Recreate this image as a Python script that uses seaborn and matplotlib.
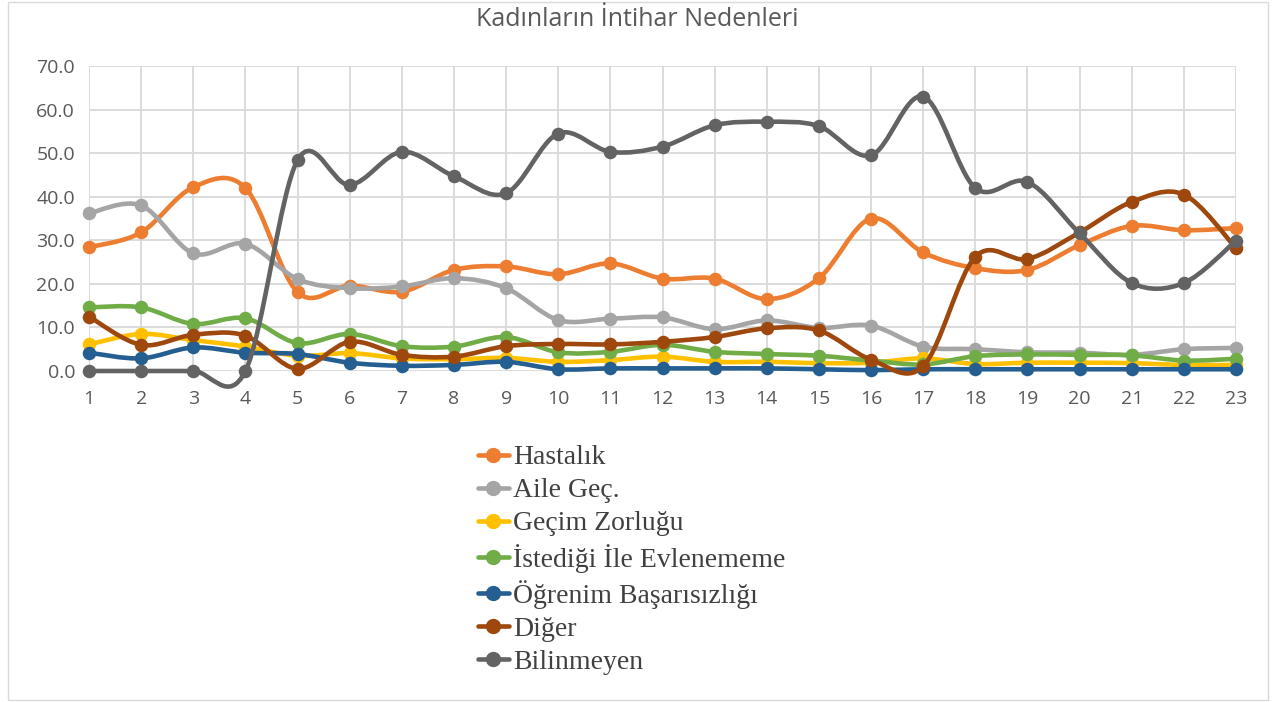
import numpy as np
import pandas as pd
import matplotlib
matplotlib.use("Agg")
import matplotlib.pyplot as plt
from matplotlib.path import Path
from matplotlib.patches import PathPatch, Rectangle
from matplotlib.lines import Line2D
import seaborn as sns

# Yearly share (%) of each cause
years = list(range(1, 24))
hastalik = [28.4, 31.8, 42.2, 42.0, 18.1, 19.6, 18.2, 23.2, 24.0, 22.2, 24.7, 21.2,
            21.2, 16.5, 21.3, 35.0, 27.2, 23.6, 23.2, 28.9, 33.3, 32.3, 32.8]
aile_gec = [36.2, 38.0, 27.0, 29.2, 21.1, 19.0, 19.4, 21.3, 19.0, 11.7, 12.0, 12.3,
            9.6, 11.6, 9.9, 10.4, 5.6, 5.0, 4.3, 4.2, 3.7, 5.0, 5.3]
gecim = [6.1, 8.5, 7.1, 5.6, 3.5, 4.1, 2.9, 2.7, 3.0, 2.1, 2.5, 3.3,
         2.1, 2.1, 1.8, 1.9, 2.9, 1.6, 1.9, 1.9, 1.8, 1.4, 1.4]
evlenememe = [14.6, 14.6, 10.8, 12.1, 6.4, 8.5, 5.7, 5.6, 7.8, 4.3, 4.4, 6.0,
              4.4, 3.9, 3.5, 2.4, 1.5, 3.4, 3.8, 3.7, 3.6, 2.4, 2.8]
ogrenim = [4.2, 2.9, 5.4, 4.2, 3.9, 1.9, 1.2, 1.4, 2.1, 0.4, 0.6, 0.6,
           0.6, 0.6, 0.4, 0.2, 0.4, 0.4, 0.4, 0.4, 0.4, 0.4, 0.4]
diger = [12.5, 6.0, 8.3, 8.1, 0.5, 6.7, 3.7, 3.3, 5.7, 6.2, 6.1, 6.7,
         7.8, 9.8, 9.3, 2.6, 1.1, 26.2, 25.7, 31.8, 38.8, 40.5, 28.2]
bilinmeyen = [0.0, 0.0, 0.0, 0.0, 48.4, 42.7, 50.3, 44.7, 40.8, 54.5, 50.3, 51.5,
              56.4, 57.2, 56.2, 49.5, 63.0, 42.0, 43.4, 31.6, 20.2, 20.2, 29.9]

series_names = ["Hastalık", "Aile Geç.", "Geçim Zorluğu", "İstediği İle Evlenememe",
                "Öğrenim Başarısızlığı", "Diğer", "Bilinmeyen"]
series_values = [hastalik, aile_gec, gecim, evlenememe, ogrenim, diger, bilinmeyen]
colors = ["#ED7D31", "#A5A5A5", "#FFC000", "#70AD47", "#255E91", "#9E480E", "#636363"]

title = "Kadınların İntihar Nedenleri"
ytick_values = list(range(0, 71, 10))

df = pd.DataFrame({"Yıl": years * len(series_names),
                   "Oran": sum(series_values, []),
                   "Neden": [n for n in series_names for _ in years]})

sns.set_theme(style="white")
plt.rcParams["font.family"] = ["Open Sans", "DejaVu Sans"]

W, H = 1274, 702
fig = plt.figure(figsize=(W / 100, H / 100), dpi=100)
ax = fig.add_axes([89 / W, 1 - 371 / H, (1236 - 89) / W, (371 - 66) / H])

grid_c = "#D9D9D9"
text_c = "#595959"
LW = 3.3


def smooth_path(xs, ys):
    """Cubic Bezier path through the points (Catmull-Rom style smoothing)."""
    pts = np.column_stack([xs, ys]).astype(float)
    n = len(pts)
    verts = [pts[0]]
    codes = [Path.MOVETO]
    for i in range(n - 1):
        p0 = pts[i - 1] if i > 0 else pts[i]
        p1 = pts[i]
        p2 = pts[i + 1]
        p3 = pts[i + 2] if i + 2 < n else pts[i + 1]
        c1 = p1 + (p2 - p0) / 6.0
        c2 = p2 - (p3 - p1) / 6.0
        verts += [c1, c2, p2]
        codes += [Path.CURVE4] * 3
    return Path(verts, codes)


for i, (name, col) in enumerate(zip(series_names, colors)):
    sub = df[df["Neden"] == name]
    patch = PathPatch(smooth_path(sub["Yıl"].values, sub["Oran"].values),
                      facecolor="none", edgecolor=col, lw=LW, zorder=3 + 2 * i,
                      clip_on=False, capstyle="round", joinstyle="round")
    ax.add_patch(patch)
    sns.scatterplot(data=sub, x="Yıl", y="Oran", color=col, edgecolor=col,
                    s=95, linewidth=0, ax=ax, zorder=4 + 2 * i, clip_on=False,
                    legend=False)

ax.set_xlim(1, 23)
ax.set_ylim(0, 70)
ax.set_xticks(years)
ax.set_yticks(ytick_values)
ax.set_yticklabels([f"{v:.1f}" for v in ytick_values])
ax.grid(True, color=grid_c, lw=1.3)
ax.set_axisbelow(True)
for s in ax.spines.values():
    s.set_visible(False)
ax.tick_params(axis="both", length=0, labelsize=14, labelcolor=text_c)
ax.tick_params(axis="y", pad=10)
ax.tick_params(axis="x", pad=14)
ax.set_xlabel("")
ax.set_ylabel("")

fig.text(0.5, 1 - 20 / H, title, ha="center", va="center", fontsize=18, color=text_c)

handles = [Line2D([0], [0], color=c, lw=LW, marker="o", markersize=10,
                  markeredgecolor=c) for c in colors]
leg = fig.legend(handles, series_names, loc="upper left",
                 bbox_to_anchor=(478 / W, 1 - 445 / H), frameon=False,
                 prop={"family": "Liberation Serif", "size": 20},
                 handlelength=1.1, handletextpad=0.15, labelspacing=0.27,
                 borderaxespad=0, borderpad=0)
for t in leg.get_texts():
    t.set_color("#404040")

fig.patches.append(Rectangle((8 / W, 1 - 700 / H), (1268 - 8) / W, 698 / H,
                             transform=fig.transFigure, fill=False,
                             edgecolor=grid_c, lw=1.0))

fig.savefig("out.png", dpi=100)
